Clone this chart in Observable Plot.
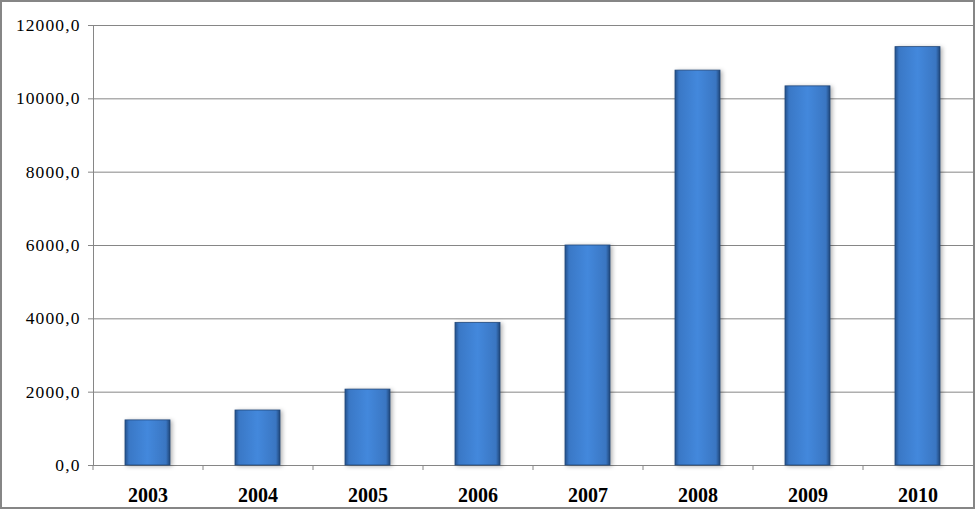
<!DOCTYPE html>
<html>
<head>
<meta charset="utf-8">
<script src="https://cdn.jsdelivr.net/npm/d3@7"></script>
<script src="https://cdn.jsdelivr.net/npm/@observablehq/plot@0.6"></script>
<style>
  html, body { margin: 0; padding: 0; background: #fff; }
</style>
</head>
<body>
<div id="chart"></div>
<script>
const years = ["2003", "2004", "2005", "2006", "2007", "2008", "2009", "2010"];
const values = [1230, 1500, 2070, 3890, 6000, 10770, 10340, 11410];
const yTicks = [0, 2000, 4000, 6000, 8000, 10000, 12000];

const data = years.map((year, i) => ({year, value: values[i]}));
const gray = "#868686";

const chart = Plot.plot({
  width: 976,
  height: 511,
  marginLeft: 93,
  marginRight: 3,
  marginTop: 25,
  marginBottom: 46,
  style: {fontFamily: "'Liberation Serif', 'Times New Roman', serif", background: "#fff", color: "#000"},
  x: {domain: years, paddingInner: 0.59, paddingOuter: 0.295, label: null},
  y: {domain: [0, 12000], label: null},
  marks: [
    Plot.gridY(yTicks, {stroke: gray, strokeOpacity: 1}),
    Plot.frame({anchor: "left", stroke: gray}),
    Plot.axisY(yTicks, {tickSize: 5, tickPadding: 8, stroke: gray, fontSize: 17.5, fill: "#000",
      tickFormat: d => d.toFixed(1).replace(".", ","), label: null}),
    Plot.axisX({tickSize: 5, dx: -55, stroke: gray, text: null, label: null}),
    Plot.axisX({tickSize: 0, tickPadding: 22, fontSize: 20, fontWeight: "bold", fill: "#000", label: null}),
    Plot.barY(data, {x: "year", y: "value", fill: "url(#barGrad)", stroke: "#22497c", strokeWidth: 0.8}),
    Plot.tickY(data, {x: "year", y: "value", stroke: "url(#bevelGrad)", strokeWidth: 6, dy: 3.5, insetLeft: 1, insetRight: 1})
  ]
});

// gradients and frame decoration
const ns = "http://www.w3.org/2000/svg";
const defs = document.createElementNS(ns, "defs");
defs.innerHTML = `
  <linearGradient id="barGrad" x1="0" x2="1" y1="0" y2="0">
    <stop offset="0%" stop-color="#24508a"/>
    <stop offset="9%" stop-color="#3a78c6"/>
    <stop offset="50%" stop-color="#4388dc"/>
    <stop offset="91%" stop-color="#3a76c2"/>
    <stop offset="100%" stop-color="#1f4679"/>
  </linearGradient>
  <linearGradient id="bevelGrad" x1="0" x2="0" y1="0" y2="1">
    <stop offset="0%" stop-color="#5a9be6"/>
    <stop offset="50%" stop-color="#7ab6f7"/>
    <stop offset="100%" stop-color="#4d8ad6"/>
  </linearGradient>`;
chart.insertBefore(defs, chart.firstChild);
const barG = chart.querySelector('g[aria-label="bar"]');
if (barG) barG.style.filter = "drop-shadow(2px 1px 2px rgba(0,0,0,0.3))";
chart.querySelectorAll("text").forEach(t => {
  if (t.textContent.includes(",")) t.style.letterSpacing = "1.1px";
});
const border = document.createElementNS(ns, "rect");
border.setAttribute("x", 1);
border.setAttribute("y", 1);
border.setAttribute("width", 973);
border.setAttribute("height", 507);
border.setAttribute("fill", "none");
border.setAttribute("stroke", gray);
border.setAttribute("stroke-width", 2);
chart.appendChild(border);

document.getElementById("chart").appendChild(chart);
</script>
</body>
</html>
